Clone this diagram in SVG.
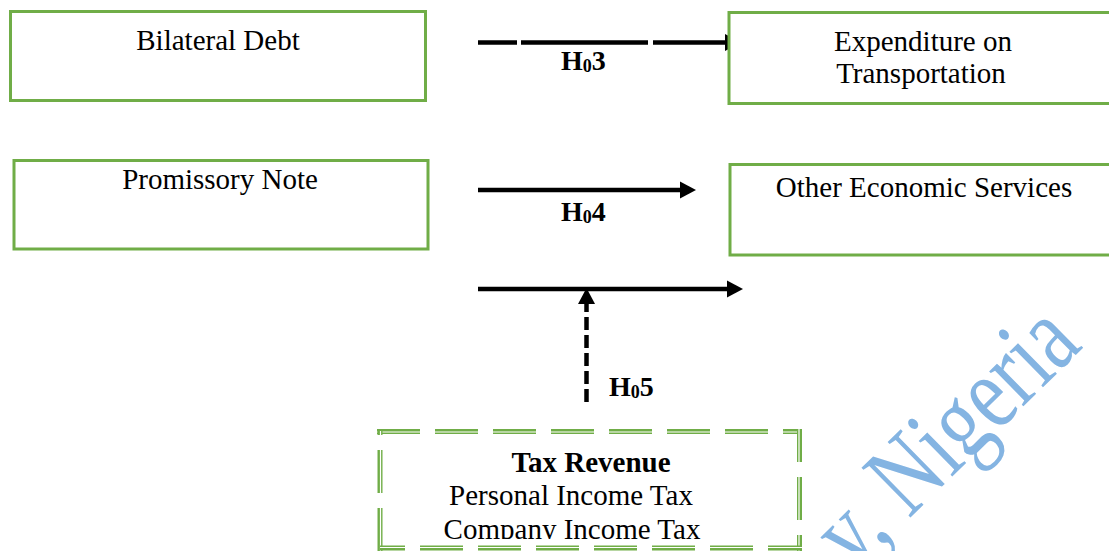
<svg xmlns="http://www.w3.org/2000/svg" width="1109" height="551" viewBox="0 0 1109 551">
  <style>
    .box { fill: #ffffff; stroke: #70AD47; stroke-width: 3; }
    .lbl { font-family: "Liberation Serif", "Times New Roman", serif; font-size: 29px; fill: #000000; }
    .hyp { font-family: "Liberation Serif", "Times New Roman", serif; font-size: 28px; font-weight: bold; fill: #000000; }
    .sub { font-size: 18px; }
    .conn { stroke: #000000; stroke-width: 4.5; fill: none; }
    .dg { stroke: #70AD47; stroke-width: 5; fill: none; stroke-dasharray: 43 15; }
    .dw { stroke: #ffffff; stroke-width: 1.2; fill: none; stroke-dasharray: 43 15; }
    .wm { font-family: "Liberation Serif", "Times New Roman", serif; font-size: 82px; fill: #84B4E2; }
  </style>
  <defs>
    <marker id="arrow" markerUnits="userSpaceOnUse" markerWidth="17" markerHeight="17" refX="0" refY="8.5" orient="auto" overflow="visible">
      <path d="M0,0 L16,8.5 L0,17 Z" fill="#000000"/>
    </marker>
    <clipPath id="taxclip">
      <rect x="380" y="433" width="420" height="106"/>
    </clipPath>
  </defs>

  <g id="connectors">
    <!-- H03 -->
    <line class="conn" x1="478" y1="42.5" x2="517" y2="42.5"/>
    <line class="conn" x1="521" y1="42.5" x2="648" y2="42.5"/>
    <line class="conn" x1="653" y1="42.5" x2="725" y2="42.5" marker-end="url(#arrow)"/>
    <!-- H04 -->
    <line class="conn" x1="478" y1="190" x2="680" y2="190" marker-end="url(#arrow)"/>
    <!-- H05 horizontal -->
    <line class="conn" x1="478" y1="289" x2="727" y2="289" marker-end="url(#arrow)"/>
    <!-- moderator dashed -->
    <line class="conn" x1="586.5" y1="402" x2="586.5" y2="304" stroke-dasharray="13 5" stroke-width="5" marker-end="url(#arrow)"/>
    <text class="hyp" x="561" y="70">H<tspan class="sub" dy="2">0</tspan><tspan dy="-2">3</tspan></text>
    <text class="hyp" x="561" y="221">H<tspan class="sub" dy="2">0</tspan><tspan dy="-2">4</tspan></text>
    <text class="hyp" x="609" y="396">H<tspan class="sub" dy="2">0</tspan><tspan dy="-2">5</tspan></text>
  </g>

  <g id="node-bilateral-debt">
    <rect class="box" x="10.5" y="11.5" width="415" height="89"/>
    <text class="lbl" x="218" y="50" text-anchor="middle">Bilateral Debt</text>
  </g>

  <g id="node-promissory-note">
    <rect class="box" x="14" y="160.5" width="414" height="88.5"/>
    <text class="lbl" x="220" y="189" text-anchor="middle">Promissory Note</text>
  </g>

  <g id="node-expenditure-transportation">
    <rect class="box" x="729" y="12.5" width="400" height="91"/>
    <text class="lbl" x="923" y="51" text-anchor="middle">Expenditure on</text>
    <text class="lbl" x="921" y="83" text-anchor="middle">Transportation</text>
  </g>

  <g id="node-other-economic-services">
    <rect class="box" x="730" y="164.5" width="400" height="90.5"/>
    <text class="lbl" x="924" y="197" text-anchor="middle">Other Economic Services</text>
  </g>

  <g id="node-tax-revenue">
    <rect x="380" y="431" width="420" height="120" fill="#ffffff"/>
    <line class="dg" x1="377" y1="431.5" x2="802" y2="431.5"/>
    <line class="dw" x1="377" y1="432" x2="802" y2="432"/>
    <line class="dg" x1="799.5" y1="429" x2="799.5" y2="551" stroke-dashoffset="10"/>
    <line class="dw" x1="799" y1="429" x2="799" y2="551" stroke-dashoffset="10"/>
    <line class="dg" x1="380" y1="431" x2="380" y2="551" stroke-dashoffset="39"/>
    <line class="dw" x1="380.5" y1="431" x2="380.5" y2="551" stroke-dashoffset="39"/>
    <line class="dg" x1="380" y1="548" x2="802" y2="548" stroke-dashoffset="18"/>
    <line class="dw" x1="380" y1="547.5" x2="802" y2="547.5" stroke-dashoffset="18"/>
    <g clip-path="url(#taxclip)">
      <text class="lbl" x="591" y="471.5" text-anchor="middle" font-weight="bold">Tax Revenue</text>
      <text class="lbl" x="571" y="504.5" text-anchor="middle">Personal Income Tax</text>
      <text class="lbl" x="572" y="538.5" text-anchor="middle">Company Income Tax</text>
    </g>
  </g>

  <g id="watermark">
    <text class="wm" transform="translate(854,573) rotate(-44.5) scale(1,1.3)">y, Nigeria</text>
  </g>
</svg>
